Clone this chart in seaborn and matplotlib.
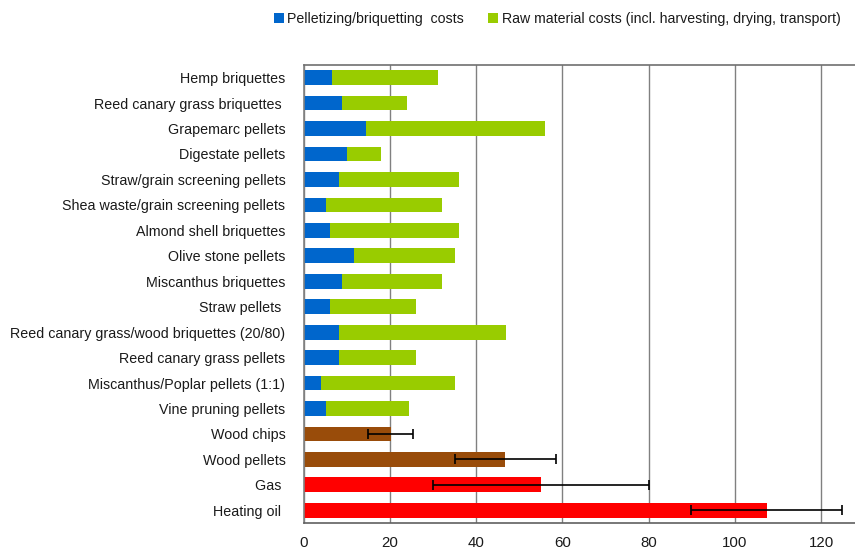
import matplotlib
matplotlib.use("Agg")
import matplotlib.pyplot as plt
from matplotlib.patches import Patch
import seaborn as sns
import pandas as pd
import numpy as np

# Biomass fuels: production cost split into pelletizing and raw material
biomass = [
    "Hemp briquettes",
    "Reed canary grass briquettes ",
    "Grapemarc pellets",
    "Digestate pellets",
    "Straw/grain screening pellets",
    "Shea waste/grain screening pellets",
    "Almond shell briquettes",
    "Olive stone pellets",
    "Miscanthus briquettes",
    "Straw pellets ",
    "Reed canary grass/wood briquettes (20/80)",
    "Reed canary grass pellets",
    "Miscanthus/Poplar pellets (1:1)",
    "Vine pruning pellets",
]
pelletizing = [6.5, 9.0, 14.4, 10.0, 8.2, 5.1, 6.1, 11.6, 9.0, 6.1, 8.2, 8.2, 4.0, 5.1]
raw_material = [24.6, 15.0, 41.6, 8.0, 27.8, 27.0, 29.9, 23.4, 23.1, 19.9, 38.8, 17.8, 31.0, 19.4]

# Reference fuels with their ranges
reference = ["Wood chips", "Wood pellets", "Gas ", "Heating oil "]
reference_cost = [20.3, 46.8, 55.1, 107.5]
reference_low = [15.0, 35.1, 30.1, 89.9]
reference_high = [25.4, 58.5, 80.1, 124.8]

x_ticks = [0, 20, 40, 60, 80, 100, 120]

BLUE = "#0066CC"
GREEN = "#99CC00"
BROWN = "#994C0A"
RED = "#FF0000"

names = biomass + reference
totals = [p + r for p, r in zip(pelletizing, raw_material)] + reference_cost
bar_colors = [GREEN] * len(biomass) + [BROWN, BROWN, RED, RED]

df_total = pd.DataFrame({"name": names, "total": totals})
df_pellet = pd.DataFrame({"name": names,
                          "pellet": pelletizing + [0.0] * len(reference)})

sns.set_style("white")
plt.rcParams["font.family"] = ["Liberation Sans", "DejaVu Sans"]

fig = plt.figure(figsize=(8.55, 5.5), dpi=100)
ax = fig.add_axes([0.355, 0.049, 0.645, 0.833])

# Full bars (raw material on top of pelletizing, or reference cost)
sns.barplot(data=df_total, y="name", x="total", hue="name", order=names,
            palette=dict(zip(names, bar_colors)), legend=False,
            orient="h", width=0.58, ax=ax, errorbar=None,
            saturation=1, linewidth=0)
n_full = len(ax.patches)
# Pelletizing share drawn over the start of each biomass bar
sns.barplot(data=df_pellet, y="name", x="pellet", order=names,
            color=BLUE, orient="h", width=0.58, ax=ax, errorbar=None,
            saturation=1, linewidth=0)
for i, p in enumerate(ax.patches):
    p.set_zorder(3 if i < n_full else 4)

# Ranges for the reference fuels
ref_pos = [names.index(n) for n in reference]
err = np.array([[c - lo for c, lo in zip(reference_cost, reference_low)],
                [hi - c for c, hi in zip(reference_cost, reference_high)]])
ax.errorbar(reference_cost, ref_pos, xerr=err, fmt="none", ecolor="black",
            elinewidth=1.2, capsize=3.5, capthick=1.2, zorder=5)

ax.set_xlim(0, 127.8)
ax.set_ylim(len(names) - 0.5, -0.5)
ax.set_xticks(x_ticks)
ax.set_xlabel("")
ax.set_ylabel("")
ax.xaxis.grid(True, color="#808080", linewidth=1.0)
ax.yaxis.grid(False)
for gl in ax.get_xgridlines():
    gl.set_zorder(1)
ax.tick_params(axis="both", length=0, colors="#1a1a1a")
ax.tick_params(axis="y", pad=13, labelsize=10.25)
ax.tick_params(axis="x", pad=9, labelsize=10.8)

for side in ["left", "top", "bottom"]:
    ax.spines[side].set_visible(True)
    ax.spines[side].set_linewidth(1.2)
    ax.spines[side].set_zorder(6)
ax.spines["left"].set_color("#808080")
ax.spines["top"].set_color("#707070")
ax.spines["bottom"].set_color("#606060")
ax.spines["right"].set_visible(False)

handles = [Patch(facecolor=BLUE, edgecolor="none"),
           Patch(facecolor=GREEN, edgecolor="none")]
fig.legend(handles,
           ["Pelletizing/briquetting  costs",
            "Raw material costs (incl. harvesting, drying, transport)"],
           loc="center", bbox_to_anchor=(557 / 855, 1 - 19 / 550), ncol=2,
           frameon=False, fontsize=10.2, handlelength=0.7, handleheight=0.75,
           handletextpad=0.25, columnspacing=1.7, labelcolor="#1a1a1a")

fig.savefig("out.png", dpi=100)
